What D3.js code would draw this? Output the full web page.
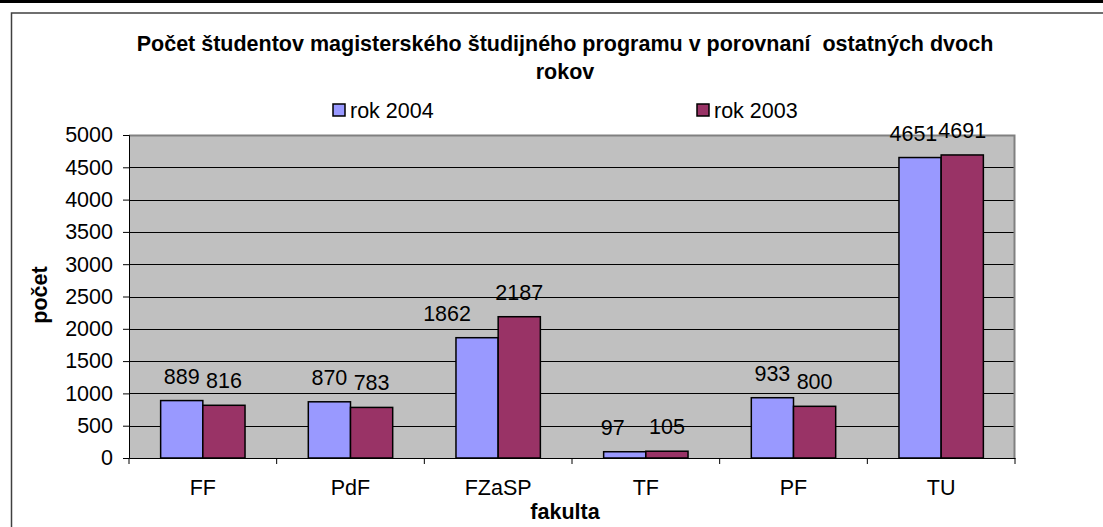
<!DOCTYPE html>
<html>
<head>
<meta charset="utf-8">
<script src="https://cdn.jsdelivr.net/npm/d3@7"></script>
<style>
  body { margin: 0; background: #fff; }
  svg { display: block; font-family: "Liberation Sans", Arial, sans-serif; }
</style>
</head>
<body>
<svg width="1103" height="527"></svg>
<script>
const svg = d3.select("svg");
const width = +svg.attr("width");
const height = +svg.attr("height");

// data
const fakulty = ["FF", "PdF", "FZaSP", "TF", "PF", "TU"];
const roky = ["rok 2004", "rok 2003"];
const rok2004 = [889, 870, 1862, 97, 933, 4651];
const rok2003 = [816, 783, 2187, 105, 800, 4691];
const yTicks = [0, 500, 1000, 1500, 2000, 2500, 3000, 3500, 4000, 4500, 5000];
const farby = ["#9999FF", "#993366"];

const plot = { left: 129, right: 1015, top: 135, bottom: 458 };
const fs = 21.5;

// black strip on top + chart frame
svg.append("rect").attr("x", 0).attr("y", 0).attr("width", width).attr("height", 3).attr("fill", "#000");
svg.append("rect")
    .attr("x", 11.5).attr("y", 13).attr("width", width + 20).attr("height", height + 20)
    .attr("fill", "#fff").attr("stroke", "#404040").attr("stroke-width", 1.5);

const x = d3.scaleBand().domain(fakulty).range([plot.left, plot.right]).paddingInner(0).paddingOuter(0);
const x1 = d3.scaleBand().domain(roky).range([0, x.bandwidth()]).paddingInner(0).paddingOuter(0.75);
const y = d3.scaleLinear().domain([0, 5000]).range([plot.bottom, plot.top]);

// plot area
svg.append("rect")
    .attr("x", plot.left).attr("y", plot.top)
    .attr("width", plot.right - plot.left).attr("height", plot.bottom - plot.top)
    .attr("fill", "#C0C0C0");

// gridlines
svg.append("g").selectAll("line")
    .data(yTicks.filter(d => d > 0 && d < 5000))
    .enter().append("line")
    .attr("x1", plot.left).attr("x2", plot.right)
    .attr("y1", d => Math.round(y(d)) + 0.5).attr("y2", d => Math.round(y(d)) + 0.5)
    .attr("stroke", "#000").attr("stroke-width", 1);

// plot border top/right
svg.append("path")
    .attr("d", `M${plot.left},${plot.top + 0.5}H${plot.right - 0.5}V${plot.bottom}`)
    .attr("fill", "none").attr("stroke", "#808080").attr("stroke-width", 2);

// bars
const series = [rok2004, rok2003];
const rows = [];
series.forEach((vals, si) => vals.forEach((v, i) => rows.push({ fak: fakulty[i], rok: roky[si], v: v, si: si })));

svg.append("g").selectAll("rect")
    .data(rows)
    .enter().append("rect")
    .attr("x", d => x(d.fak) + x1(d.rok))
    .attr("y", d => y(d.v))
    .attr("width", x1.bandwidth())
    .attr("height", d => y(0) - y(d.v))
    .attr("fill", d => farby[d.si])
    .attr("stroke", "#000").attr("stroke-width", 1.5);

// value labels
const labels = svg.append("g").selectAll("text")
    .data(rows)
    .enter().append("text")
    .attr("x", d => x(d.fak) + x1(d.rok) + x1.bandwidth() / 2)
    .attr("y", d => y(d.v) - 17)
    .attr("text-anchor", "middle")
    .attr("font-size", fs)
    .text(d => d.v);

// ručne posunuté popisy v pôvodnom grafe (FZaSP, TF)
labels.filter(d => d.si === 0 && d.fak === "FZaSP").attr("dx", -30);
labels.filter(d => d.si === 0 && d.fak === "TF").attr("dx", -12);

// posunúť ľavý popis, ak sa prekrýva s pravým (ako Excel pri TU)
fakulty.forEach(f => {
    const pair = labels.filter(d => d.fak === f).nodes();
    const a = pair[0].getBBox(), b = pair[1].getBBox();
    const over = a.x + a.width - b.x;
    if (over > 0 && Math.abs(a.y - b.y) < a.height) {
        d3.select(pair[0]).attr("dx", -over - 1);
    }
});

// y axis
const yAxis = svg.append("g")
    .attr("transform", `translate(${plot.left},0)`)
    .call(d3.axisLeft(y).tickValues(yTicks).tickSize(6).tickPadding(10).tickFormat(d3.format("d")));
yAxis.select(".domain").attr("stroke", "#000");
yAxis.selectAll("text").attr("font-size", fs).attr("fill", "#000").attr("font-family", "Liberation Sans, Arial, sans-serif");

// x axis
const xAxis = svg.append("g")
    .attr("transform", `translate(0,${plot.bottom})`)
    .call(d3.axisBottom(x).tickSize(0).tickPadding(22));
xAxis.select(".domain").attr("stroke", "#000");
xAxis.selectAll("text").attr("font-size", fs).attr("fill", "#000").attr("font-family", "Liberation Sans, Arial, sans-serif");
// category separators
svg.append("g").selectAll("line")
    .data(fakulty.map(f => x(f)).concat([plot.right]))
    .enter().append("line")
    .attr("x1", d => d).attr("x2", d => d)
    .attr("y1", plot.bottom).attr("y2", plot.bottom + 6)
    .attr("stroke", "#000");

// title
const title = svg.append("text")
    .attr("text-anchor", "middle")
    .attr("font-size", fs).attr("font-weight", "bold");
title.append("tspan").attr("x", 565).attr("y", 51).text("Počet študentov magisterského študijného programu v porovnaní\u00a0 ostatných dvoch");
title.append("tspan").attr("x", 565).attr("y", 79).text("rokov");

// legend
const legX = [333, 697];
const leg = svg.append("g").selectAll("g")
    .data(roky)
    .enter().append("g")
    .attr("transform", (d, i) => `translate(${legX[i]},104)`);
leg.append("rect").attr("width", 12).attr("height", 12)
    .attr("fill", (d, i) => farby[i]).attr("stroke", "#000").attr("stroke-width", 1.5);
leg.append("text").attr("x", 17).attr("y", 14).attr("font-size", fs).text(d => d);

// axis titles
svg.append("text")
    .attr("transform", "translate(47,295) rotate(-90)")
    .attr("text-anchor", "middle")
    .attr("font-size", fs).attr("font-weight", "bold")
    .text("počet");
svg.append("text")
    .attr("x", 565).attr("y", 519)
    .attr("text-anchor", "middle")
    .attr("font-size", fs).attr("font-weight", "bold")
    .text("fakulta");
</script>
</body>
</html>
